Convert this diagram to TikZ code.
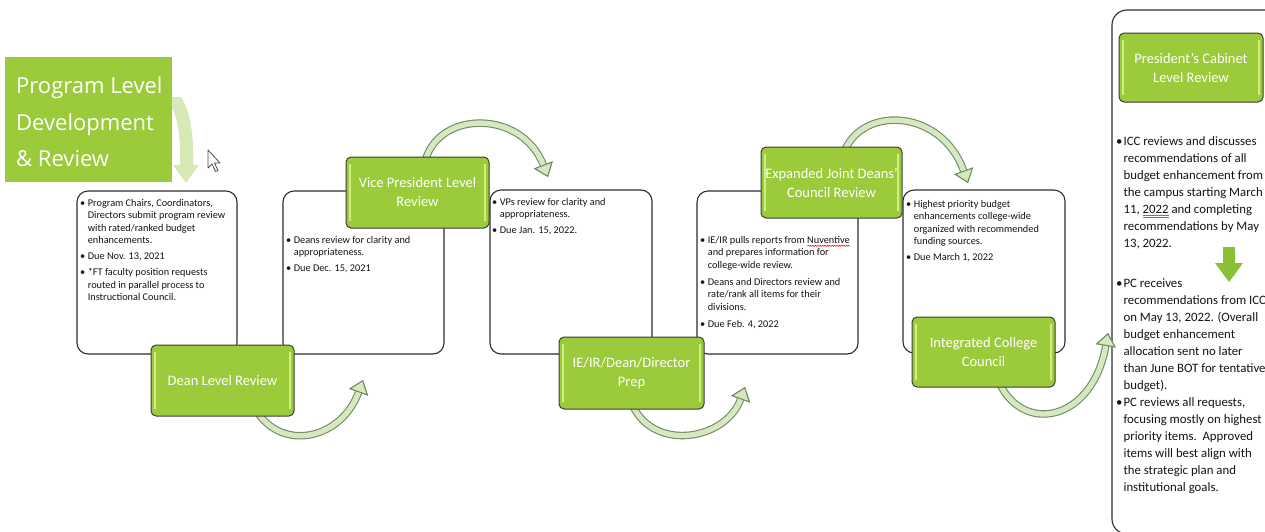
\documentclass[tikz,border=0pt]{standalone}
\usepackage{fontspec}
\setmainfont{Carlito}
\newfontfamily\titlefont{Open Sans}
\usetikzlibrary{arrows.meta,calc,decorations.pathmorphing}
\definecolor{gboxc}{RGB}{155,203,58}
\definecolor{gedge}{RGB}{60,60,60}
\definecolor{ghl}{RGB}{208,238,130}
\definecolor{arrfill}{RGB}{214,232,192}
\definecolor{arredge}{RGB}{115,138,100}
\definecolor{titlegreen}{RGB}{155,203,59}
\definecolor{titlearrow}{RGB}{214,233,182}
\definecolor{boxedge}{RGB}{45,45,45}
\definecolor{darrow}{RGB}{140,192,52}
\definecolor{txt}{RGB}{20,20,20}
\definecolor{gramblue}{RGB}{80,120,220}
\newlength\marklen
\newcommand\redwave[1]{\settowidth\marklen{#1}\rlap{\tikz[baseline=0pt,x=1pt,y=1pt]\draw[red,line width=0.5pt,decorate,decoration={snake,amplitude=0.6pt,segment length=2.4pt}] (0pt,-2.8pt) -- (\marklen,-2.8pt);}#1}
\newcommand\blueuu[1]{\settowidth\marklen{#1}\rlap{\tikz[baseline=0pt,x=1pt,y=1pt]\draw[gramblue,line width=0.45pt] (0pt,-2.6pt) -- (\marklen,-2.6pt) (0pt,-4.2pt) -- (\marklen,-4.2pt);}#1}
\tikzset{
  wbox/.style={draw=boxedge, line width=1.1pt, fill=white, rounded corners=11pt, inner sep=0pt},
  gbox/.style={draw=gedge, line width=1pt, fill=gboxc, rounded corners=5pt, text=white,
    font=\fontsize{14.5}{19}\selectfont, align=center, inner sep=0pt,
    path picture={
      \draw[ghl, line width=2pt] ([xshift=4pt,yshift=-7pt]path picture bounding box.north west) -- ([xshift=4pt,yshift=7pt]path picture bounding box.south west);
      \draw[ghl, line width=2pt] ([xshift=-4pt,yshift=-7pt]path picture bounding box.north east) -- ([xshift=-4pt,yshift=7pt]path picture bounding box.south east);
    }},
  gspace/.style={inner sep=0pt, draw=none, fill=none},
  smalltxt/.style={anchor=base west, inner sep=0pt, text=txt, font=\fontsize{10.3}{12.5}\selectfont},
  bigtxt/.style={anchor=base west, inner sep=0pt, text=txt, font=\fontsize{12.8}{17}\selectfont},
  titletxt/.style={anchor=base west, inner sep=0pt, text=white, font=\titlefont\fontsize{22}{30}\selectfont},
  arrowout/.style={line width=7.5pt, draw=arredge, -{Triangle[length=13pt,width=20pt,fill=arrfill,color=arredge,line width=1pt]}},
  arrowin/.style={line width=5.3pt, draw=arrfill, -{Triangle[length=13pt,width=20pt,fill=arrfill,color=arredge,line width=1pt]}}
}
\newcommand\flowarrow[1]{\draw[arrowout] #1; \draw[arrowin] #1;}
\begin{document}
\begin{tikzpicture}[x=1pt,y=-1pt]
\useasboundingbox (0,0) rectangle (1265,531);
\fill[white] (0,0) rectangle (1265,531);

% white boxes
\node[wbox, minimum width=160pt, minimum height=163pt] (b1) at (157,272.5) {};
\node[wbox, minimum width=161pt, minimum height=163pt] (b2) at (363.5,272.5) {};
\node[wbox, minimum width=162pt, minimum height=164pt] (b3) at (571,272) {};
\node[wbox, minimum width=161pt, minimum height=163pt] (b4) at (777.5,272.5) {};
\node[wbox, minimum width=162pt, minimum height=163pt] (b5) at (984,271.5) {};
\node[wbox, rounded corners=15pt, minimum width=178pt, minimum height=524pt] (b6) at (1201,272) {};

% box texts
\node[smalltxt] (x1) at (80,206) {\begin{tabular}[t]{@{}l@{\hspace{2.5pt}}l@{}}
\textbullet & Program Chairs, Coordinators,\\
 & Directors submit program review\\
 & with rated/ranked budget\\
 & enhancements.\\[3.5pt]
\textbullet & Due Nov. 13, 2021\\[3.5pt]
\textbullet & *FT faculty position requests\\
 & routed in parallel process to\\
 & Instructional Council.
\end{tabular}};
\node[smalltxt] (x2) at (286,243) {\begin{tabular}[t]{@{}l@{\hspace{2.5pt}}l@{}}
\textbullet & Deans review for clarity and\\
 & appropriateness.\\[3.5pt]
\textbullet & Due Dec. 15, 2021
\end{tabular}};
\node[smalltxt] (x3) at (492,205) {\begin{tabular}[t]{@{}l@{\hspace{2.5pt}}l@{}}
\textbullet & VPs review for clarity and\\
 & appropriateness.\\[3.5pt]
\textbullet & Due Jan. 15, 2022.
\end{tabular}};
\node[smalltxt] (x4) at (700,243) {\begin{tabular}[t]{@{}l@{\hspace{2.5pt}}l@{}}
\textbullet & IE/IR pulls reports from \redwave{Nuventive}\\
 & and prepares information for\\
 & college-wide review.\\[4.5pt]
\textbullet & Deans and Directors review and\\
 & rate/rank all items for their\\
 & divisions.\\[4.5pt]
\textbullet & Due Feb. 4, 2022
\end{tabular}};
\node[smalltxt] (x5) at (906,207) {\begin{tabular}[t]{@{}l@{\hspace{2.5pt}}l@{}}
\textbullet & Highest priority budget\\
 & enhancements college-wide\\
 & organized with recommended\\
 & funding sources.\\[3.5pt]
\textbullet & Due March 1, 2022
\end{tabular}};
\node[bigtxt] (r1) at (1116,145) {\begin{tabular}[t]{@{}l@{\hspace{1pt}}l@{}}
\textbullet & ICC reviews and discusses\\
 & recommendations of all\\
 & budget enhancement from\\
 & the campus starting March\\
 & 11, \blueuu{2022} and completing\\
 & recommendations by May\\
 & 13, 2022.
\end{tabular}};
\node[bigtxt] (r2) at (1116,287) {\begin{tabular}[t]{@{}l@{\hspace{1pt}}l@{}}
\textbullet & PC receives\\
 & recommendations from ICC\\
 & on May 13, 2022. (Overall\\
 & budget enhancement\\
 & allocation sent no later\\
 & than June BOT for tentative\\
 & budget).\\
\textbullet & PC reviews all requests,\\
 & focusing mostly on highest\\
 & priority items.\ \ Approved\\
 & items will best align with\\
 & the strategic plan and\\
 & institutional goals.
\end{tabular}};

% green down arrow in right box
\fill[darrow] (1223,247) -- (1235,247) -- (1235,263) -- (1243,263) -- (1229,282) -- (1215,263) -- (1223,263) -- cycle;

% flow arrows
\coordinate (t1) at (363,380);
\coordinate (t2) at (548,177);
\coordinate (t3) at (745,387);
\coordinate (t4) at (968,183);
\coordinate (t5) at (1108,333);

\node[gspace, minimum width=143pt, minimum height=71pt] (g1) at (222.5,380.5) {};
\node[gspace, minimum width=143pt, minimum height=71pt] (g2) at (417.5,192.5) {};
\node[gspace, minimum width=145pt, minimum height=72pt] (g3) at (631.5,373) {};
\node[gspace, minimum width=141pt, minimum height=71pt] (g4) at (831.5,182.5) {};
\node[gspace, minimum width=143pt, minimum height=70pt] (g5) at (983.5,352) {};

\flowarrow{($(g1.south)+(35.5,-3)$) .. controls (285,452) and (342,438) .. (t1)}
\flowarrow{($(g2.north)+(8,3)$) .. controls (440,110) and (522,110) .. (t2)}
\flowarrow{($(g3.south)+(1.5,-3)$) .. controls (655,452) and (726,440) .. (t3)}
\flowarrow{($(g4.north)+(13.5,3)$) .. controls (865,105) and (942,110) .. (t4)}
\flowarrow{($(g5.south)+(16.5,-3)$) .. controls (1025,435) and (1093,420) .. (t5)}

% green boxes drawn over
\node[gbox, minimum width=143pt, minimum height=71pt] (G1) at (g1) {Dean Level Review};
\node[gbox, minimum width=143pt, minimum height=71pt] (G2) at (g2) {Vice President Level\\Review};
\node[gbox, minimum width=145pt, minimum height=72pt] (G3) at (g3) {IE/IR/Dean/Director\\Prep};
\node[gbox, minimum width=141pt, minimum height=71pt] (G4) at (g4) {Expanded Joint Deans’\\Council Review};
\node[gbox, minimum width=143pt, minimum height=70pt] (G5) at (g5) {Integrated College\\Council};
\node[gbox, minimum width=144pt, minimum height=69pt] (G6) at (1191,67.5) {President’s Cabinet\\Level Review};

% title
\fill[titlearrow] (172,97) -- (181,97) .. controls (191,112) and (194,138) .. (193,165) -- (199,165) -- (186,183) -- (173,165) -- (180,165) .. controls (181,140) and (178,118) .. (172,108) -- cycle;
\node[fill=titlegreen, minimum width=167pt, minimum height=125pt, inner sep=0pt] (t0) at (88.5,119.5) {};
\node[titletxt] (t0a) at (16,93) {Program Level};
\node[titletxt] (t0b) at (16,130) {Development};
\node[titletxt] (t0c) at (16,166) {\& Review};

% cursor
\filldraw[fill=white, draw=black!70, line width=0.8pt, line join=round] (208,150) -- (208,168) -- (212,164) -- (215.5,171.5) -- (218,170.5) -- (214.5,163) -- (220,163) -- cycle;
\end{tikzpicture}
\end{document}
